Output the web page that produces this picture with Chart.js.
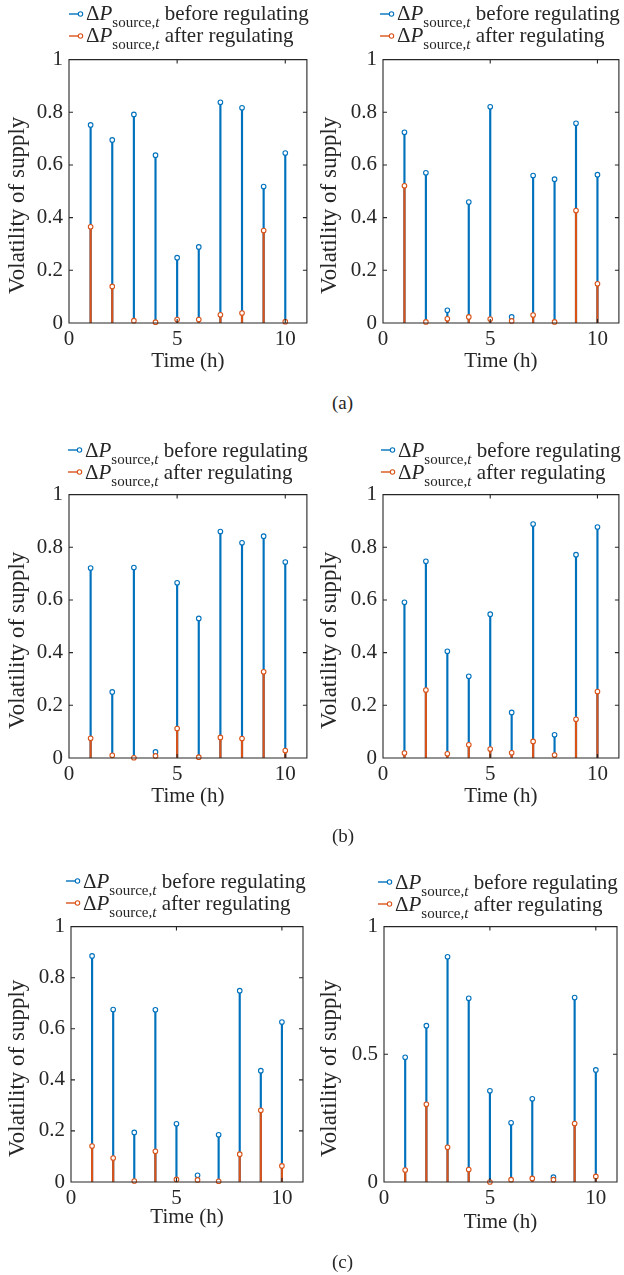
<!DOCTYPE html>
<html>
<head>
<meta charset="utf-8">
<title>Volatility of supply</title>
<script src="https://cdn.jsdelivr.net/npm/chart.js@4.4.1/dist/chart.umd.min.js"></script>
<style>
  html, body { margin: 0; padding: 0; background: #fff; }
  #page {
    position: relative; width: 624px; height: 1275px; overflow: hidden;
    font-family: 'Liberation Serif', 'Times New Roman', serif; color: #262626;
  }
  canvas { position: absolute; }
  .legend { position: absolute; font-size: 21px; white-space: nowrap; }
  .legend .row { position: relative; height: 22px; line-height: 22px; padding-left: 17px; }
  .legend .icon { position: absolute; left: 0; top: 6.6px; }
  .legend i { font-style: italic; }
  .legend sub { font-size: 15px; vertical-align: -7px; line-height: 0; }
  .tag { position: absolute; font-size: 19px; line-height: 19px; }
</style>
</head>
<body>
<div id="page"></div>
<script>
// Hours on the x axis
const hours = [1, 2, 3, 4, 5, 6, 7, 8, 9, 10];

// Supply volatility per hour, before and after regulating
const beforeA1 = [0.752, 0.695, 0.792, 0.637, 0.248, 0.289, 0.838, 0.817, 0.518, 0.645];
const afterA1  = [0.365, 0.139, 0.009, 0.003, 0.013, 0.013, 0.031, 0.038, 0.351, 0.005];
const beforeA2 = [0.724, 0.570, 0.048, 0.459, 0.821, 0.023, 0.560, 0.546, 0.758, 0.563];
const afterA2  = [0.521, 0.004, 0.016, 0.023, 0.015, 0.008, 0.030, 0.004, 0.427, 0.149];
const beforeB1 = [0.721, 0.251, 0.723, 0.023, 0.665, 0.530, 0.860, 0.817, 0.842, 0.744];
const afterB1  = [0.075, 0.010, 0.001, 0.008, 0.112, 0.003, 0.078, 0.074, 0.327, 0.028];
const beforeB2 = [0.591, 0.747, 0.405, 0.310, 0.546, 0.173, 0.888, 0.088, 0.772, 0.877];
const afterB2  = [0.019, 0.258, 0.016, 0.050, 0.034, 0.020, 0.063, 0.011, 0.147, 0.252];
const beforeC1 = [0.885, 0.675, 0.194, 0.674, 0.228, 0.026, 0.185, 0.749, 0.436, 0.626];
const afterC1  = [0.141, 0.094, 0.004, 0.120, 0.010, 0.008, 0.003, 0.109, 0.281, 0.063];
const beforeC2 = [0.488, 0.612, 0.882, 0.719, 0.357, 0.232, 0.326, 0.019, 0.722, 0.439];
const afterC2  = [0.047, 0.304, 0.136, 0.049, 0.000, 0.009, 0.014, 0.009, 0.229, 0.022];

// Tick values and labels
const xTicks = [0, 5, 10];
const yTicksFine = [0, 0.2, 0.4, 0.6, 0.8, 1];
const yTicksCoarse = [0, 0.5, 1];
const seriesNames = ['before regulating', 'after regulating'];
const xTitle = 'Time (h)';
const yTitle = 'Volatility of supply';
const subfigTags = ['(a)', '(b)', '(c)'];

// Styling
const BLUE = '#0072BD';
const ORANGE = '#D95319';
const INK = '#262626';
const SERIF = "'Liberation Serif', 'Times New Roman', serif";

// Panel layout: plot area [left, top, right, bottom] in page pixels
const panels = [
  { col: 0,   area: [69, 57, 307, 323],   before: beforeA1, after: afterA1, yTicks: yTicksFine,   legX: 86,  legBase: 20.5, xTitleDrop: 44 },
  { col: 312, area: [383, 57, 622, 323],  before: beforeA2, after: afterA2, yTicks: yTicksFine,   legX: 397, legBase: 20.5, xTitleDrop: 44 },
  { col: 0,   area: [69, 492, 307, 758],  before: beforeB1, after: afterB1, yTicks: yTicksFine,   legX: 85,  legBase: 457,  xTitleDrop: 44 },
  { col: 312, area: [383, 492, 622, 758], before: beforeB2, after: afterB2, yTicks: yTicksFine,   legX: 398, legBase: 457,  xTitleDrop: 44 },
  { col: 0,   area: [71, 924, 303, 1182], before: beforeC1, after: afterC1, yTicks: yTicksFine,   legX: 83,  legBase: 888,  xTitleDrop: 41 },
  { col: 312, area: [384, 924, 617, 1182],before: beforeC2, after: afterC2, yTicks: yTicksCoarse, legX: 395, legBase: 889,  xTitleDrop: 46 }
];
const tagPos = [[332, 409], [332, 842], [332, 1268]];

const page = document.getElementById('page');

// Box around the plot area with inward tick marks on all four sides
const framePlugin = {
  id: 'frame',
  afterDatasetsDraw(chart) {
    const { ctx, chartArea: a, scales } = chart;
    const len = 4;
    ctx.save();
    ctx.strokeStyle = INK;
    ctx.lineWidth = 1.1;
    ctx.beginPath();
    ctx.rect(a.left, a.top, a.right - a.left, a.bottom - a.top);
    scales.x.ticks.forEach(t => {
      const px = scales.x.getPixelForValue(t.value);
      ctx.moveTo(px, a.bottom); ctx.lineTo(px, a.bottom - len);
      ctx.moveTo(px, a.top);    ctx.lineTo(px, a.top + len);
    });
    scales.y.ticks.forEach(t => {
      const py = scales.y.getPixelForValue(t.value);
      ctx.moveTo(a.left, py);  ctx.lineTo(a.left + len, py);
      ctx.moveTo(a.right, py); ctx.lineTo(a.right - len, py);
    });
    ctx.stroke();
    ctx.restore();
  }
};

// Axis titles
const titlesPlugin = {
  id: 'axisTitles',
  afterDraw(chart, args, opts) {
    const { ctx, chartArea: a } = chart;
    ctx.save();
    ctx.fillStyle = INK;
    ctx.textAlign = 'center';
    ctx.textBaseline = 'alphabetic';
    ctx.font = '21px ' + SERIF;
    ctx.fillText(xTitle, (a.left + a.right) / 2, a.bottom + opts.xDrop);
    ctx.translate(24, (a.top + a.bottom) / 2 + 14);
    ctx.rotate(-Math.PI / 2);
    ctx.font = '23px ' + SERIF;
    ctx.fillText(yTitle, 0, 0);
    ctx.restore();
  }
};

function points(values) {
  return hours.map((h, i) => ({ x: h, y: values[i] }));
}

function addLegend(p) {
  const box = document.createElement('div');
  box.className = 'legend';
  box.style.left = (p.legX - 17) + 'px';
  box.style.top = (p.legBase - 18.1) + 'px';
  box.innerHTML = [[BLUE, seriesNames[0]], [ORANGE, seriesNames[1]]].map(([c, name]) =>
    '<div class="row"><svg class="icon" width="16" height="10">' +
    '<line x1="0" y1="5" x2="11" y2="5" stroke="' + c + '" stroke-width="1.4"/>' +
    '<circle cx="11.5" cy="5" r="2.2" fill="#fff" stroke="' + c + '" stroke-width="1.1"/></svg>' +
    '<span>\u0394<i>P</i><sub>source,<i>t</i></sub> ' + name + '</span></div>'
  ).join('');
  page.appendChild(box);
}

panels.forEach(p => {
  const [l, t, r, b] = p.area;
  const padTop = 16, below = 60, W = 312;
  const H = (b - t) + padTop + below;
  const cv = document.createElement('canvas');
  cv.width = W; cv.height = H;
  cv.style.left = p.col + 'px';
  cv.style.top = (t - padTop) + 'px';
  cv.style.width = W + 'px';
  cv.style.height = H + 'px';
  page.appendChild(cv);

  const tickFont = { family: SERIF, size: 21 };
  const stem = (vals, color, order) => ({
    type: 'bar', data: points(vals), backgroundColor: color, borderWidth: 0,
    barThickness: 1.5, grouped: false, order
  });
  const marks = (vals, color, order) => ({
    type: 'scatter', data: points(vals), showLine: false,
    pointRadius: 2.3, pointBorderWidth: 1.1, pointBorderColor: color,
    pointBackgroundColor: '#ffffff', clip: false, order
  });

  new Chart(cv, {
    type: 'scatter',
    data: {
      datasets: [
        stem(p.before, BLUE, 3),
        marks(p.before, BLUE, 2),
        stem(p.after, ORANGE, 1),
        marks(p.after, ORANGE, 0)
      ]
    },
    options: {
      responsive: false,
      animation: false,
      devicePixelRatio: 1,
      events: [],
      layout: { padding: { left: 0, top: padTop, right: p.col + W - r, bottom: 0 } },
      plugins: { legend: { display: false }, tooltip: { enabled: false }, axisTitles: { xDrop: p.xTitleDrop } },
      scales: {
        x: {
          type: 'linear', min: 0, max: 11, offset: false,
          grid: { display: false, drawTicks: false, offset: false },
          border: { display: false },
          ticks: { font: tickFont, color: INK, padding: 3.5, maxRotation: 0, autoSkip: false },
          afterBuildTicks: s => { s.ticks = xTicks.map(v => ({ value: v })); },
          afterFit: s => { s.height = below; }
        },
        y: {
          type: 'linear', min: 0, max: 1,
          grid: { display: false, drawTicks: false },
          border: { display: false },
          ticks: { font: tickFont, color: INK, padding: 6, autoSkip: false, callback: v => String(v) },
          afterBuildTicks: s => { s.ticks = p.yTicks.map(v => ({ value: v })); },
          afterFit: s => { s.width = l - p.col; }
        }
      }
    },
    plugins: [framePlugin, titlesPlugin]
  });

  addLegend(p);
});

subfigTags.forEach((txt, i) => {
  const d = document.createElement('div');
  d.className = 'tag';
  d.textContent = txt;
  d.style.left = tagPos[i][0] + 'px';
  d.style.top = (tagPos[i][1] - 16) + 'px';
  page.appendChild(d);
});
</script>
</body>
</html>
